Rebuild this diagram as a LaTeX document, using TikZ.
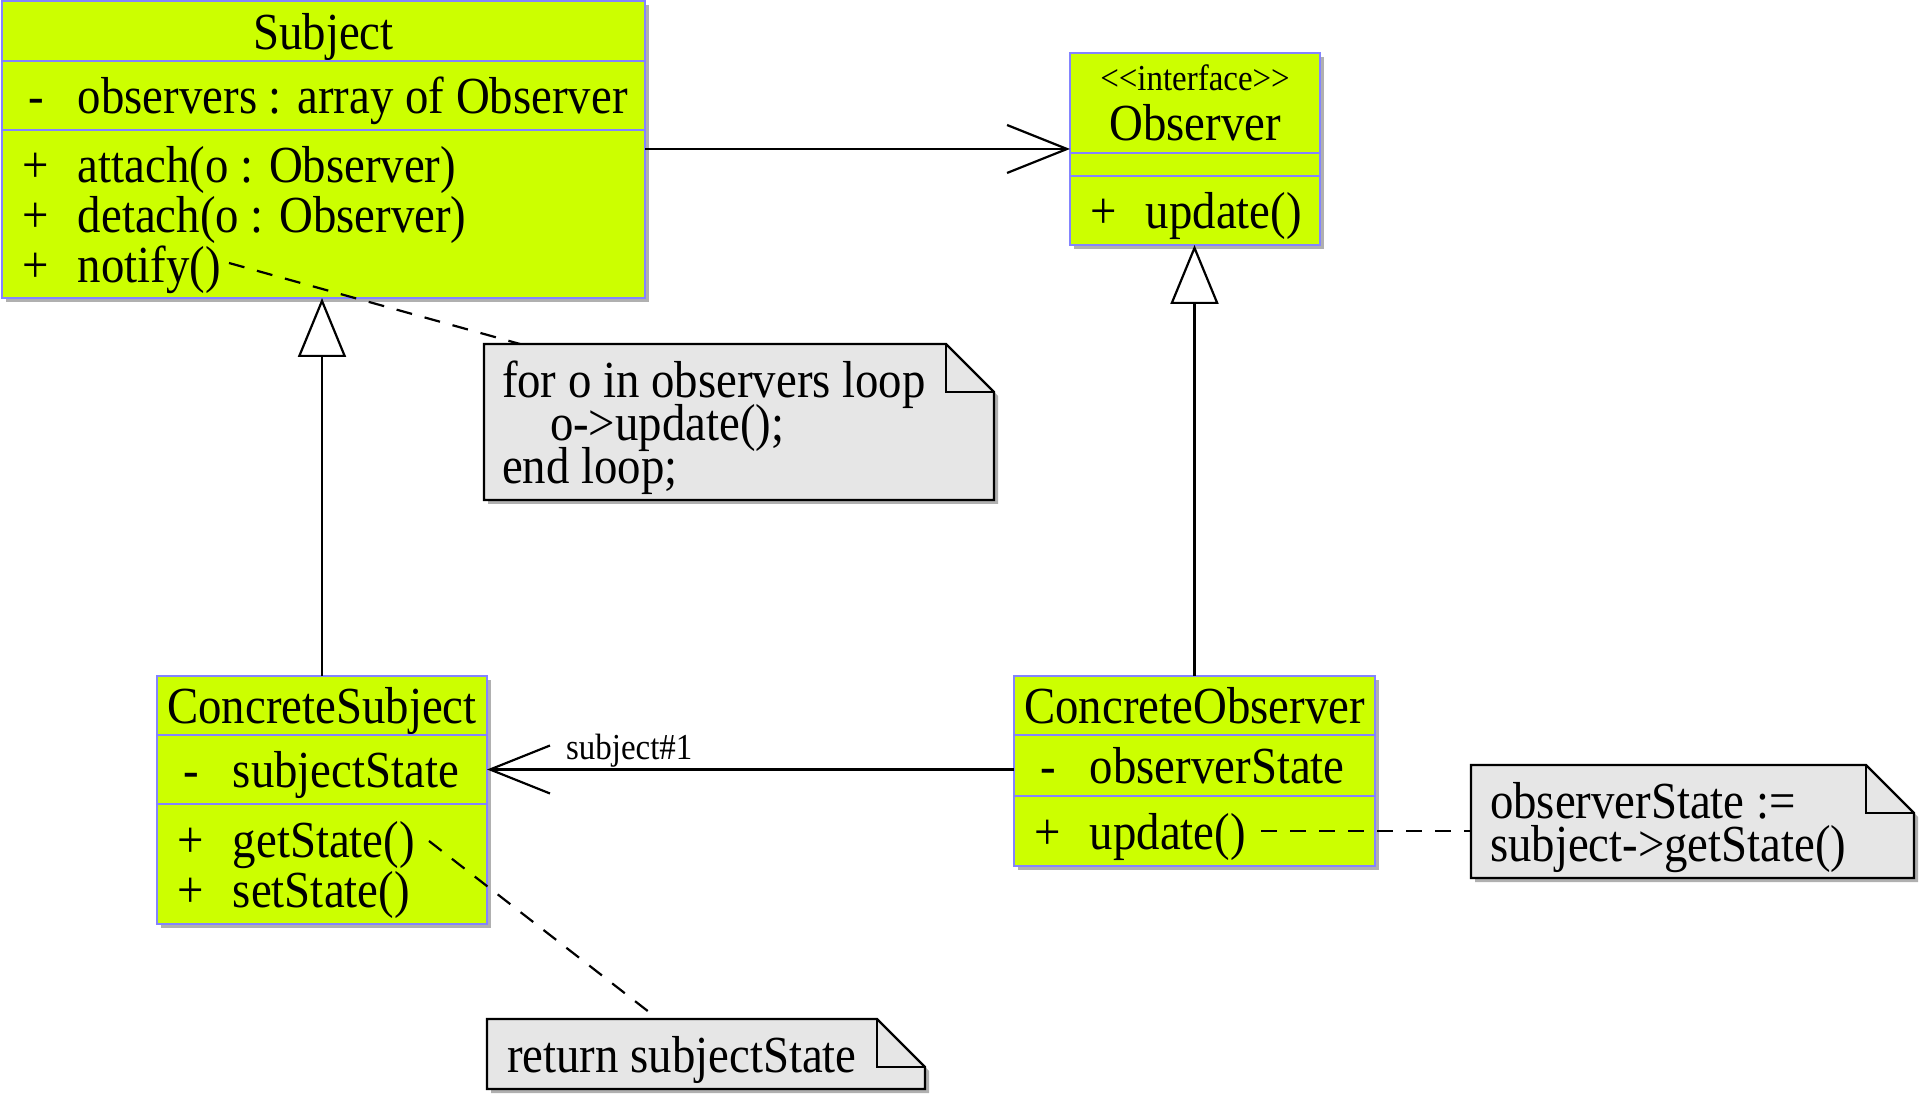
\documentclass[tikz,border=0pt]{standalone}
\usepackage{fontspec}
\setmainfont{Liberation Serif}[FakeStretch=0.9]
\usepackage{tikz}
\usetikzlibrary{positioning,arrows.meta,shadows,backgrounds}

\definecolor{umllime}{HTML}{CCFF00}
\definecolor{umlblue}{HTML}{8484FF}
\definecolor{notegray}{HTML}{E6E6E6}
\definecolor{shadowgray}{HTML}{B0B0B0}

% visibility sign + member name
\newcommand{\vis}[1]{\hspace*{6.5pt}\makebox[13pt][c]{#1}\hspace{14.5pt}}
\newcommand{\stereo}[1]{{\fontsize{18.3pt}{20pt}\selectfont #1}}
\newcommand{\topstrut}{\rule{0pt}{24pt}}
% note outline with folded corner, behind the text node
\newcommand{\foldnote}[1]{%
  \begin{scope}[on background layer]
    \draw[notebody] (#1.north west) -- ([xshift=-24pt]#1.north east) -- ([yshift=-24pt]#1.north east) -- (#1.south east) -- (#1.south west) -- cycle;
    \draw[notefold] ([xshift=-24pt]#1.north east) |- ([yshift=-24pt]#1.north east);
  \end{scope}}

\tikzset{
  umlpart/.style={draw=umlblue, fill=umllime, line width=1.1pt, inner ysep=0pt, outer sep=0pt, anchor=north west,
    drop shadow={shadow xshift=2pt, shadow yshift=-2pt, fill=shadowgray, opacity=1}},
  classhead/.style={umlpart, minimum width=#1, inner xsep=1pt, align=center, text depth=0pt},
  classbody/.style={umlpart, text width=#1, inner xsep=4pt, align=flush left},
  oneline/.style={text depth=0pt},
  notetext/.style={inner ysep=0pt, outer sep=0pt, anchor=north west, align=flush left,
    font=\fontsize{26pt}{21.5pt}\selectfont, execute at begin node={\lineskiplimit=-20pt\relax}},
  notebody/.style={draw=black, fill=notegray, line width=1.2pt,
    drop shadow={shadow xshift=2pt, shadow yshift=-2pt, fill=shadowgray, opacity=1}},
  notefold/.style={draw=black, line width=1.2pt},
  assoc/.style={draw=black, line width=1.1pt, -{Straight Barb[length=30pt,width=24pt]}},
  inherit/.style={draw=black, line width=1.1pt, -{Triangle[length=29.5pt,width=24pt,fill=white]}},
  notelink/.style={draw=black, line width=1.1pt, dash pattern=on 8pt off 6.5pt},
  rolelabel/.style={font=\fontsize{18.3pt}{20pt}\selectfont, inner sep=0.5pt},
}

\begin{document}
\begin{tikzpicture}[x=0.5pt, y=-0.5pt, font=\fontsize{26pt}{25pt}\selectfont]
  \useasboundingbox (0,0) rectangle (1920,1095);

  % Subject
  \node[classhead=321.5pt, minimum height=30pt] (subjtitle) at (2,1) {Subject};
  \node[classbody=313.5pt, oneline, minimum height=34.5pt] (subjattr) at (subjtitle.south west) {\vis{-}observers : array of Observer};
  \node[classbody=313.5pt, minimum height=84pt] (subjmeth) at (subjattr.south west) {\topstrut\vis{+}attach(o : Observer)\\\vis{+}detach(o : Observer)\\\vis{+}notify()};

  % Observer
  \node[classhead=125pt, minimum height=50pt] (obstitle) at (1070,53) {\stereo{<\kern0pt<interface>\kern0pt>}\\Observer};
  \node[classbody=117pt, minimum height=11.5pt] (obsattr) at (obstitle.south west) {};
  \node[classbody=117pt, oneline, minimum height=34.5pt] (obsmeth) at (obsattr.south west) {\vis{+}update()};

  % ConcreteSubject
  \node[classhead=165pt, minimum height=29.5pt] (cstitle) at (157,676) {ConcreteSubject};
  \node[classbody=157pt, oneline, minimum height=34.5pt] (csattr) at (cstitle.south west) {\vis{-}subjectState};
  \node[classbody=157pt, minimum height=60pt] (csmeth) at (csattr.south west) {\topstrut\vis{+}getState()\\\vis{+}setState()};

  % ConcreteObserver
  \node[classhead=180.5pt, minimum height=29.5pt] (cotitle) at (1014,676) {ConcreteObserver};
  \node[classbody=172.5pt, oneline, minimum height=30.5pt] (coattr) at (cotitle.south west) {\vis{-}observerState};
  \node[classbody=172.5pt, oneline, minimum height=35pt] (cometh) at (coattr.south west) {\vis{+}update()};

  % notes
  \node[notetext, inner xsep=9pt, text width=237pt, minimum height=78pt] (loopnote) at (484,344)
    {\topstrut for o in observers loop\\\hspace*{24pt}o->update();\\end loop;};
  \foldnote{loopnote}
  \node[notetext, inner xsep=9.5pt, text width=202.5pt, minimum height=56.5pt] (statenote) at (1471,765)
    {\topstrut observerState :=\\subject->getState()};
  \foldnote{statenote}
  \node[notetext, oneline, inner xsep=10pt, text width=199pt, minimum height=35pt] (returnnote) at (487,1019)
    {return subjectState};
  \foldnote{returnnote}

  % associations
  \coordinate (assocstart) at ([yshift=-9.5pt]subjmeth.north east);
  \draw[assoc] (assocstart) -- (assocstart -| obstitle.west);
  \draw[assoc] (coattr.west |- csattr.east) -- node[rolelabel, pos=0.73, above] (rolename) {subject\#1} (csattr.east);

  % generalizations
  \draw[inherit] (cstitle.north) -- (cstitle.north |- subjmeth.south);
  \draw[inherit] (cotitle.north) -- (cotitle.north |- obsmeth.south);

  % note links
  \coordinate (notifyend) at (229,263);
  \draw[notelink] (notifyend) -- ([xshift=18pt]loopnote.north west);
  \coordinate (getstateend) at (429,841);
  \draw[notelink] (getstateend) -- ([xshift=85.5pt]returnnote.north west);
  \coordinate (updateend) at (1261,831);
  \draw[notelink] (updateend) -- (updateend -| statenote.west);
\end{tikzpicture}
\end{document}
